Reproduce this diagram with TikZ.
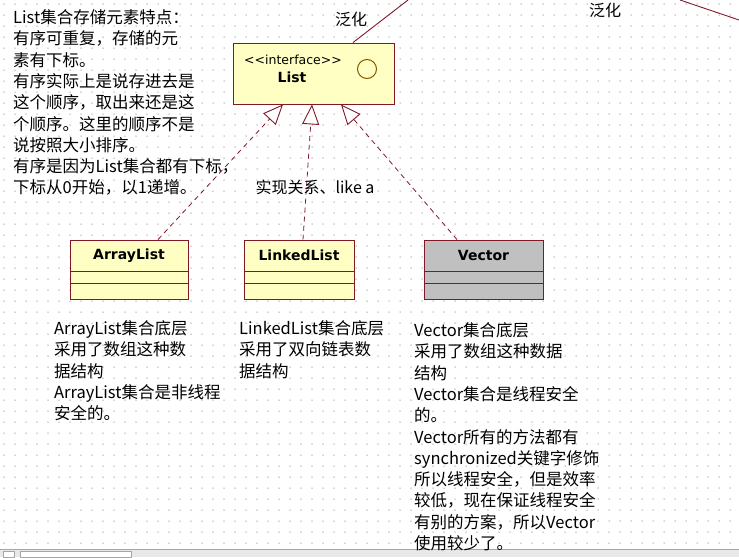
\documentclass[tikz,border=0pt]{standalone}
\usepackage{fontspec}
\setmainfont{Noto Sans CJK SC}
\newfontfamily\umlfont{DejaVu Sans}
\usetikzlibrary{arrows.meta,positioning}
\definecolor{umlyellow}{RGB}{255,255,196}
\definecolor{umlgrey}{RGB}{192,192,192}
\definecolor{umlred}{RGB}{128,24,40}
\definecolor{gridgrey}{RGB}{170,170,170}
\definecolor{ifacebrown}{RGB}{128,88,0}
\definecolor{barbg}{RGB}{232,232,232}

\begin{document}
\begin{tikzpicture}[x=1pt,y=-1pt,
  classbox/.style={draw=umlred,fill=umlyellow,line width=0.9pt,minimum width=118pt,minimum height=59pt,inner sep=0pt},
  classname/.style={font=\umlfont\bfseries\fontsize{14}{16}\selectfont},
  note/.style={anchor=north west,align=left,inner sep=0pt,font=\fontsize{16.5}{21.3}\selectfont},
  tag/.style={font=\fontsize{16}{18}\selectfont},
  realize/.style={draw=umlred,dash pattern=on 5pt off 4pt,line width=0.8pt,-{Triangle[length=20pt,width=17pt,fill=white,line width=0.9pt]}}]
\useasboundingbox (0,0) rectangle (739,557);
\foreach \i in {0,...,66}{\foreach \j in {0,...,49}{\fill[gridgrey] (4+11*\i,4+11*\j) circle (0.75);}}
% bottom bar
\fill[barbg] (0,549) rectangle (739,557);
\draw[gray!70] (0,549)--(739,549);
\draw[gray!70,fill=white] (3,551) rectangle (14,557);
\draw[gray!70,fill=white] (20,551) rectangle (131,557);

\node[classbox,minimum width=161pt,minimum height=61pt] (lst) at (313.5,73.5) {};
\node[font=\umlfont\fontsize{12.5}{14}\selectfont] (lsttag) at (293,60) {{<}{<}interface{>}{>}};
\node[classname] (lstname) at (292,77) {List};
\node[draw=ifacebrown,line width=1pt,circle,minimum size=19pt,inner sep=0pt] (lstcirc) at (367,69) {};

\node[classbox] (al) at (129,269.5) {};
\node[classbox,minimum width=110pt] (ll) at (299,269.5) {};
\node[classbox,fill=umlgrey,minimum width=119pt] (vec) at (483.5,269.5) {};
\node[classname] (alname) at ([yshift=-16pt]al.north) {ArrayList};
\node[classname] (llname) at ([yshift=-16pt]ll.north) {LinkedList};
\node[classname] (vecname) at ([yshift=-16pt]vec.north) {Vector};
\foreach \b in {al,ll,vec}{
  \draw[umlred,line width=0.9pt] ([yshift=-32pt]\b.north west) -- ([yshift=-32pt]\b.north east);
  \draw[umlred,line width=0.9pt] ([yshift=-44pt]\b.north west) -- ([yshift=-44pt]\b.north east);
}

\draw[realize] ([xshift=29pt]al.north) -- ([xshift=-30.5pt]lst.south);
\draw[realize] ([xshift=4pt]ll.north) -- ([xshift=-1.5pt]lst.south);
\draw[realize] ([xshift=-26.5pt]vec.north) -- ([xshift=27.5pt]lst.south);
\node[tag] (rlabel) at (315,187) {实现关系、like a};

\coordinate (gentop) at (408,0);
\coordinate (gena) at (680,0);
\coordinate (genb) at (739,20);
\draw[umlred,line width=0.9pt] ([xshift=39.5pt]lst.north) -- (gentop);
\draw[umlred,line width=0.9pt] (gena) -- (genb);
\node[tag] (genlabel) at (351,19) {泛化};
\node[tag] (genlabelb) at (605,10) {泛化};

\node[note] (listnote) at (13,8.4) {\strut List集合存储元素特点：\\有序可重复，存储的元\\素有下标。\\有序实际上是说存进去是\\这个顺序，取出来还是这\\个顺序。这里的顺序不是\\说按照大小排序。\\有序是因为List集合都有下标，\\下标从0开始，以1递增。};
\node[note] (alnote) at (54,319.4) {\strut ArrayList集合底层\\采用了数组这种数\\据结构\\ArrayList集合是非线程\\安全的。};
\node[note] (llnote) at (239,319.4) {\strut LinkedList集合底层\\采用了双向链表数\\据结构};
\node[note] (vecnote) at (414,321.4) {\strut Vector集合底层\\采用了数组这种数据\\结构\\Vector集合是线程安全\\的。\\Vector所有的方法都有\\synchronized关键字修饰\\所以线程安全，但是效率\\较低，现在保证线程安全\\有别的方案，所以Vector\\使用较少了。};
\end{tikzpicture}
\end{document}
